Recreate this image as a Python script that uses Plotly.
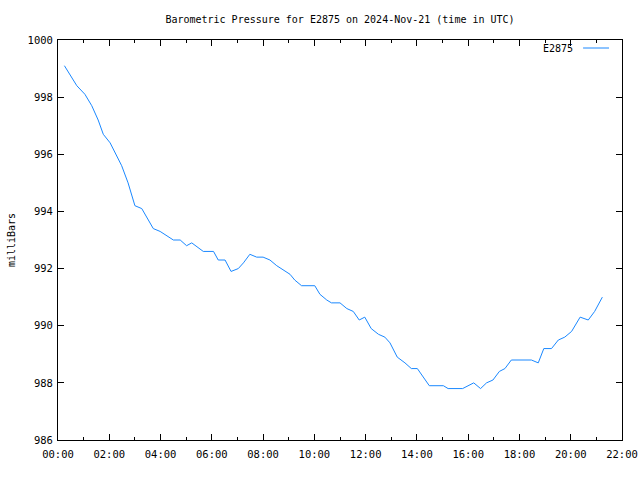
import plotly.graph_objects as go

times = ["00:15","00:44","01:03","01:19","01:34","01:46","02:02","02:29","02:44","03:00",
         "03:16","03:43","03:59","04:18","04:30","04:46","05:01","05:13","05:40","06:04",
         "06:15","06:31","06:45","07:02","07:14","07:29","07:45","08:00","08:16","08:32",
         "08:43","09:03","09:14","09:30","10:01","10:13","10:29","10:40","11:00","11:16",
         "11:31","11:45","11:58","12:13","12:30","12:45","12:57","13:14","13:32","13:47",
         "14:01","14:15","14:29","15:02","15:13","15:47","16:00","16:13","16:29","16:43",
         "16:58","17:13","17:26","17:41","18:28","18:44","18:57","19:15","19:31","19:46",
         "20:02","20:22","20:41","20:56","21:14"]
pressure = [999.1,998.4,998.1,997.7,997.2,996.7,996.4,995.6,995.0,994.2,
            994.1,993.4,993.3,993.1,993.0,993.0,992.8,992.9,992.6,992.6,
            992.3,992.3,991.9,992.0,992.2,992.5,992.4,992.4,992.3,992.1,
            992.0,991.8,991.6,991.4,991.4,991.1,990.9,990.8,990.8,990.6,
            990.5,990.2,990.3,989.9,989.7,989.6,989.4,988.9,988.7,988.5,
            988.5,988.2,987.9,987.9,987.8,987.8,987.9,988.0,987.8,988.0,
            988.1,988.4,988.5,988.8,988.8,988.7,989.2,989.2,989.5,989.6,
            989.8,990.3,990.2,990.5,991.0]
x_vals = ["2024-11-21 " + t for t in times]
station = "E2875"
y_ticks = [986, 988, 990, 992, 994, 996, 998, 1000]

font = "DejaVu Sans Mono"
color = "#1a88ff"

fig = go.Figure()
fig.add_trace(go.Scatter(x=x_vals, y=pressure, mode="lines", name=station,
                         line=dict(color=color, width=1), showlegend=False))

fig.update_layout(
    width=640, height=480,
    margin=dict(l=58, r=18, t=40, b=40, autoexpand=False),
    paper_bgcolor="white", plot_bgcolor="white",
    font=dict(family=font, size=10, color="black"),
    title=dict(text="Barometric Pressure for E2875 on 2024-Nov-21 (time in UTC)",
               xref="paper", x=0.5, xanchor="center", y=0.96, yanchor="middle",
               font=dict(family=font, size=10, color="black")),
    xaxis=dict(type="date", range=["2024-11-21 00:00", "2024-11-21 22:00"],
               dtick=7200000, tickformat="%H:%M", tick0="2024-11-21 00:00",
               showline=True, linecolor="black", linewidth=1, mirror="ticks",
               ticks="inside", ticklen=6, tickcolor="black", showgrid=False,
               minor=dict(dtick=3600000, ticks="inside", ticklen=3, tickcolor="black", showgrid=False),
               tickfont=dict(family=font, size=10.5), zeroline=False, fixedrange=True,
               automargin=False, ticklabelstandoff=4),
    yaxis=dict(range=[986, 1000], tickvals=y_ticks, ticktext=[str(v) for v in y_ticks],
               showline=True, linecolor="black", linewidth=1, mirror="ticks",
               ticks="inside", ticklen=6, tickcolor="black", showgrid=False,
               zeroline=False, tickfont=dict(family=font, size=10.5), automargin=False,
               ticklabelstandoff=2,
               title=dict(text="milliBars", font=dict(family=font, size=10), standoff=10)),
)

fig.add_annotation(xref="paper", yref="paper", x=0.9167, y=0.98, xanchor="right", yanchor="middle",
                   text=station, showarrow=False, font=dict(family=font, size=10, color="black"))
fig.add_shape(type="line", xref="paper", yref="paper", x0=0.931, x1=0.977, y0=0.98, y1=0.98,
              line=dict(color=color, width=1))

fig.write_html("out.html")
